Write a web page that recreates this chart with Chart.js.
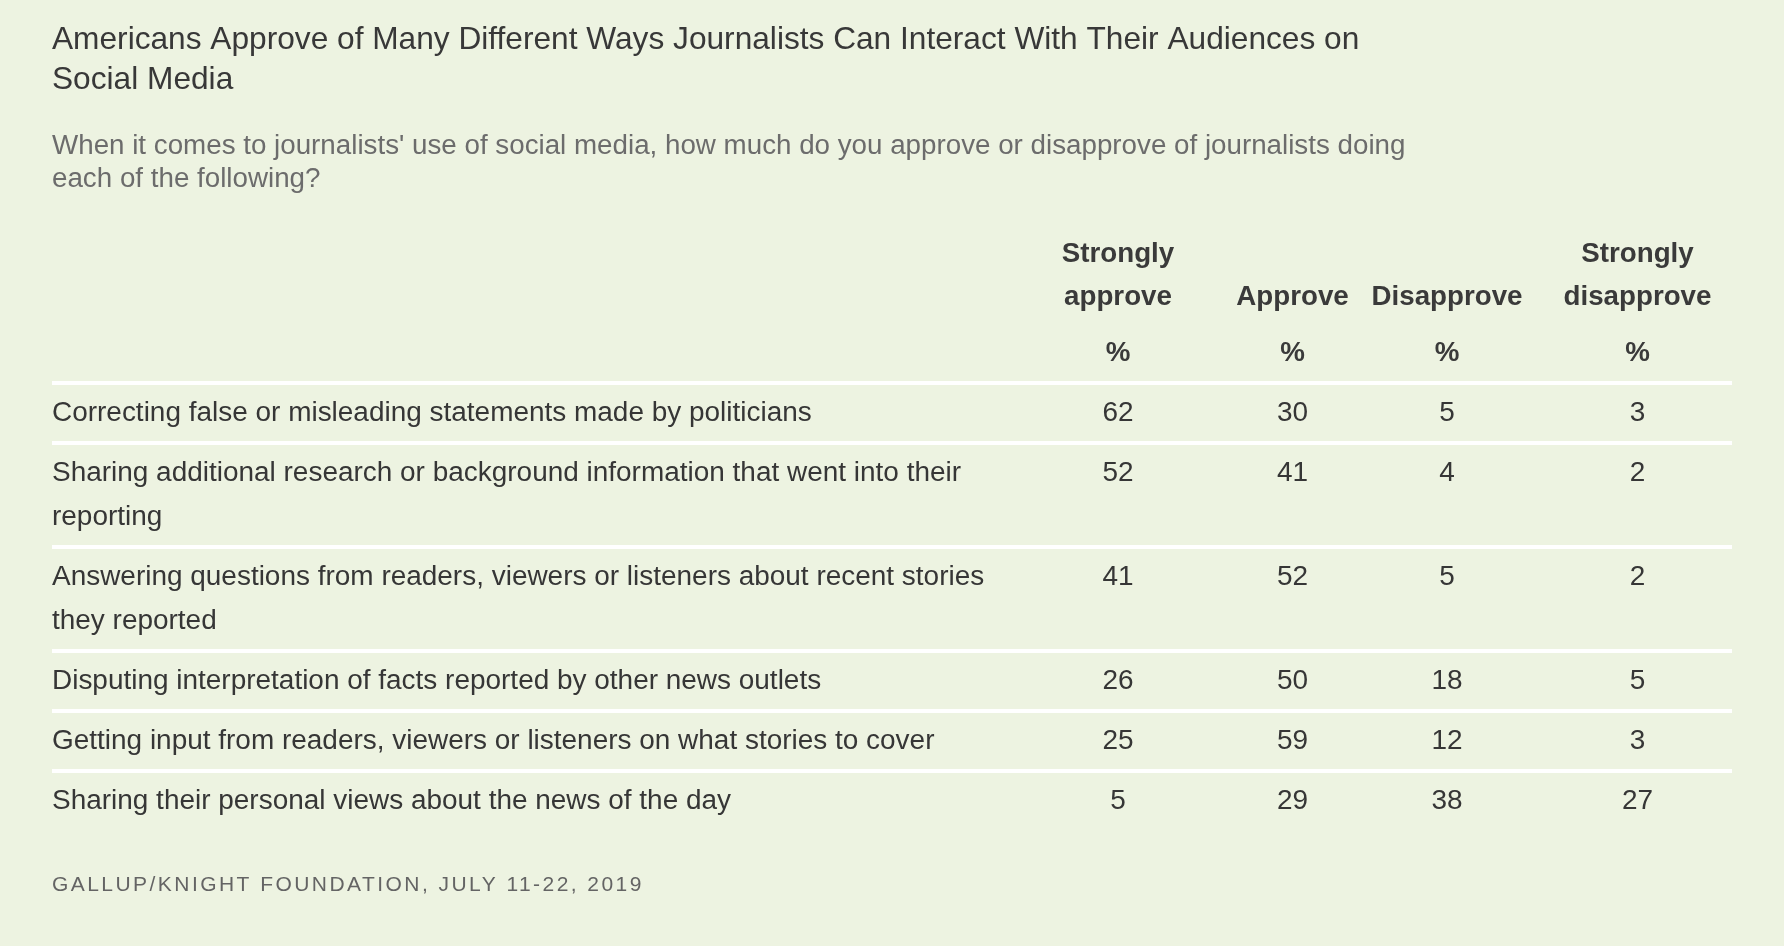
<!DOCTYPE html>
<html>
<head>
<meta charset="utf-8">
<script src="https://cdn.jsdelivr.net/npm/chart.js@4.4.1/dist/chart.umd.min.js"></script>
<style>
html,body{margin:0;padding:0;background:#EDF3E1;}
#wrap{width:1784px;height:946px;position:relative;}
</style>
</head>
<body>
<div id="wrap"><canvas id="c"></canvas></div>
<script>
// ---------------- DATA ----------------
const titleLines = [
  "Americans Approve of Many Different Ways Journalists Can Interact With Their Audiences on",
  "Social Media"
];
const subtitleLines = [
  "When it comes to journalists' use of social media, how much do you approve or disapprove of journalists doing",
  "each of the following?"
];
const categories = [
  ["Correcting false or misleading statements made by politicians"],
  ["Sharing additional research or background information that went into their", "reporting"],
  ["Answering questions from readers, viewers or listeners about recent stories", "they reported"],
  ["Disputing interpretation of facts reported by other news outlets"],
  ["Getting input from readers, viewers or listeners on what stories to cover"],
  ["Sharing their personal views about the news of the day"]
];
const seriesNames = ["Strongly approve", "Approve", "Disapprove", "Strongly disapprove"];
const headerLines = [["Strongly", "approve"], ["", "Approve"], ["", "Disapprove"], ["Strongly", "disapprove"]];
const unitLabel = "%";
const stronglyApprove    = [62, 52, 41, 26, 25, 5];
const approve            = [30, 41, 52, 50, 59, 29];
const disapprove         = [5, 4, 5, 18, 12, 38];
const stronglyDisapprove = [3, 2, 2, 5, 3, 27];
const sourceNote = "GALLUP/KNIGHT FOUNDATION, JULY 11-22, 2019";

// ---------------- LAYOUT / STYLE ----------------
const FAMILY = "'Liberation Sans', Arial, Helvetica, sans-serif";
const TEXT = '#363636';
const SUB = '#6c6c6c';
const LINE_H = 44, ROW_PAD = 16;
const TABLE_LEFT = 52, TABLE_RIGHT = 52, TABLE_TOP = 383, TABLE_BOTTOM = 115;
const TABLE_W = 1784 - TABLE_LEFT - TABLE_RIGHT;
const colX = [1066, 1240.5, 1395, 1585.5]; // column centres in table units (px from table left)

const mctx = document.createElement('canvas').getContext('2d');
function fitSize(text, weight, target) {
  mctx.font = `${weight} 100px ${FAMILY}`;
  return 100 * target / mctx.measureText(text).width;
}
const titleSize  = fitSize(titleLines[0], 'normal', 1308);
const subSize    = fitSize(subtitleLines[0], 'normal', 1354);
const rowSize    = fitSize(categories[0][0], 'normal', 760);
const headSize   = fitSize('Disapprove', 'bold', 151);
const footSize   = 21;

const rowHeights = categories.map(c => ROW_PAD + LINE_H * c.length);
const rowTops = [];
rowHeights.reduce((acc, h) => { rowTops.push(acc); return acc + h; }, 0);
const tableTotal = rowHeights.reduce((a, b) => a + b, 0);
const labelCenters = rowTops.map((t, i) => t + rowHeights[i] / 2);
const valueY = rowTops.map(t => t + ROW_PAD / 2 + LINE_H / 2);
const nRows = categories.length;

const seriesValues = [stronglyApprove, approve, disapprove, stronglyDisapprove];
const datasets = seriesValues.map((vals, j) => ({
  label: seriesNames[j],
  data: vals.map((v, i) => ({ x: colX[j], y: valueY[i], v: v })),
  pointRadius: 0,
  pointHoverRadius: 0,
  showLine: false
}));

const tablePlugin = {
  id: 'tableText',
  afterDraw(chart) {
    const ctx = chart.ctx;
    const xs = chart.scales.x;
    ctx.save();
    ctx.textAlign = 'left';
    ctx.textBaseline = 'alphabetic';
    // title
    ctx.fillStyle = '#383838';
    ctx.font = `normal ${titleSize}px ${FAMILY}`;
    ctx.fillText(titleLines[0], TABLE_LEFT, 49);
    ctx.fillText(titleLines[1], TABLE_LEFT, 89);
    // subtitle
    ctx.fillStyle = SUB;
    ctx.font = `normal ${subSize}px ${FAMILY}`;
    ctx.fillText(subtitleLines[0], TABLE_LEFT, 154);
    ctx.fillText(subtitleLines[1], TABLE_LEFT, 187);
    // column headers
    ctx.textAlign = 'center';
    ctx.fillStyle = '#3a3a3a';
    ctx.font = `bold ${headSize}px ${FAMILY}`;
    headerLines.forEach((lines, j) => {
      const cx = xs.getPixelForValue(colX[j]);
      if (lines[0]) ctx.fillText(lines[0], cx, 262);
      if (lines[1]) ctx.fillText(lines[1], cx, 305);
      ctx.fillText(unitLabel, cx, 361);
    });
    // cell values
    ctx.fillStyle = TEXT;
    ctx.font = `normal ${rowSize}px ${FAMILY}`;
    ctx.textBaseline = 'middle';
    chart.data.datasets.forEach((ds, j) => {
      const meta = chart.getDatasetMeta(j);
      meta.data.forEach((pt, i) => {
        ctx.fillText(String(ds.data[i].v), pt.x, pt.y);
      });
    });
    // source
    ctx.textAlign = 'left';
    ctx.textBaseline = 'alphabetic';
    ctx.fillStyle = '#646464';
    ctx.font = `normal ${footSize}px ${FAMILY}`;
    if ('letterSpacing' in ctx) ctx.letterSpacing = '2.45px';
    ctx.fillText(sourceNote, TABLE_LEFT, 891);
    ctx.restore();
  }
};

new Chart(document.getElementById('c'), {
  type: 'scatter',
  data: { datasets },
  options: {
    responsive: true,
    maintainAspectRatio: false,
    animation: false,
    events: [],
    layout: { padding: { top: TABLE_TOP, left: TABLE_LEFT, right: TABLE_RIGHT, bottom: TABLE_BOTTOM } },
    plugins: { legend: { display: false }, tooltip: { enabled: false }, title: { display: false } },
    scales: {
      x: { type: 'linear', min: 0, max: TABLE_W, display: false },
      y: {
        type: 'linear',
        min: 0,
        max: tableTotal,
        reverse: true,
        border: { display: false },
        afterBuildTicks: (axis) => {
          axis.ticks = rowTops.map(v => ({ value: v })).concat(labelCenters.map(v => ({ value: v })));
        },
        ticks: {
          autoSkip: false,
          mirror: true,
          padding: 0,
          color: TEXT,
          font: { family: FAMILY, size: rowSize, lineHeight: LINE_H + 'px' },
          callback: (value, index) => index < nRows ? '' : categories[index - nRows]
        },
        grid: {
          drawTicks: false,
          color: (c) => c.index < nRows ? '#FFFFFF' : 'rgba(0,0,0,0)',
          lineWidth: (c) => c.index < nRows ? 4 : 0
        }
      }
    }
  },
  plugins: [tablePlugin]
});
</script>
</body>
</html>
